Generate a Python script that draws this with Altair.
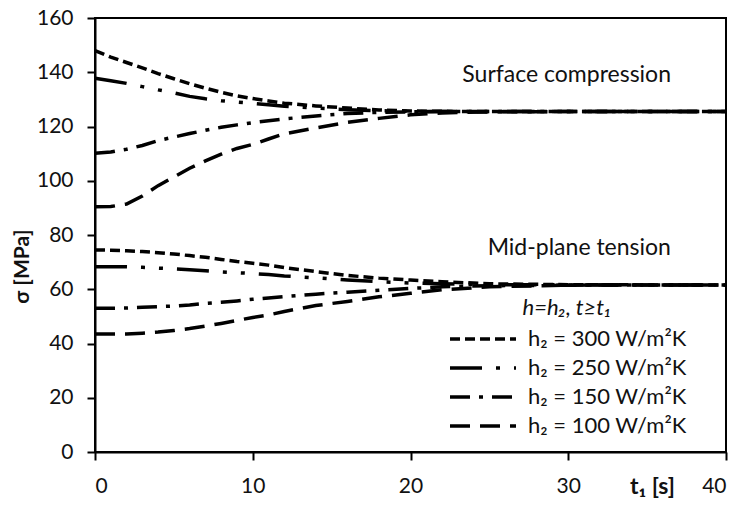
import altair as alt
import pandas as pd

# time grid [s]
t = [0, 1, 2, 3, 4, 5, 6, 7, 8, 9, 10, 11, 12, 14, 16, 18, 20, 22, 25, 30, 35, 40]

# surface compression [MPa]
surf_300 = [148.0, 145.6, 143.6, 141.6, 139.5, 137.6, 135.8, 134.1, 132.6, 131.3, 130.3, 129.4, 128.6, 127.6, 126.8, 126.1, 125.7, 125.6, 125.5, 125.5, 125.5, 125.5]
surf_250 = [137.8, 136.9, 135.9, 134.7, 133.5, 132.4, 131.1, 130.2, 129.5, 129.0, 128.5, 128.0, 127.5, 126.8, 126.2, 125.8, 125.6, 125.5, 125.5, 125.5, 125.5, 125.5]
surf_150 = [110.1, 110.6, 111.6, 113.0, 114.8, 116.1, 117.4, 118.6, 119.7, 120.6, 121.4, 122.1, 122.8, 123.9, 124.8, 125.2, 125.4, 125.5, 125.5, 125.5, 125.5, 125.5]
surf_100 = [90.4, 90.5, 91.4, 94.4, 98.2, 101.4, 104.6, 107.3, 109.8, 111.9, 113.4, 115.4, 117.3, 119.5, 121.5, 123.0, 124.3, 125.0, 125.4, 125.5, 125.5, 125.5]

# mid-plane tension [MPa]
mid_300 = [74.5, 74.4, 74.2, 73.9, 73.5, 73.0, 72.4, 71.8, 71.0, 70.2, 69.6, 68.9, 68.0, 66.5, 65.1, 64.1, 63.4, 62.8, 62.0, 61.7, 61.6, 61.6]
mid_250 = [68.3, 68.3, 68.3, 68.1, 67.8, 67.5, 67.2, 66.8, 66.4, 66.1, 65.8, 65.4, 64.9, 64.2, 63.4, 62.8, 62.3, 62.0, 61.7, 61.6, 61.6, 61.6]
mid_150 = [53.0, 53.0, 53.1, 53.4, 53.6, 53.8, 54.2, 54.8, 55.2, 55.7, 56.3, 56.8, 57.3, 58.2, 58.9, 59.6, 60.3, 60.9, 61.3, 61.5, 61.6, 61.6]
mid_100 = [43.5, 43.5, 43.5, 43.8, 44.2, 44.8, 45.5, 46.4, 47.4, 48.5, 49.6, 50.5, 51.8, 54.0, 55.5, 57.2, 58.5, 59.8, 60.9, 61.5, 61.6, 61.6]

series_labels = ["h₂ = 300 W/m²K", "h₂ = 250 W/m²K", "h₂ = 150 W/m²K", "h₂ = 100 W/m²K"]
dashes = [[10, 5], [32, 14, 4, 14, 4, 14], [20, 9, 4, 9], [20, 10]]

annot_text = ["Surface compression", "Mid-plane tension"]
annot_t = [29.9, 30.7]
annot_s = [136.4, 72.6]

rows = []
for lab, s_vals, m_vals in zip(series_labels,
                               [surf_300, surf_250, surf_150, surf_100],
                               [mid_300, mid_250, mid_150, mid_100]):
    for ti, v in zip(t, s_vals):
        rows.append({"t": ti, "sigma": v, "series": lab, "region": "surface"})
    for ti, v in zip(t, m_vals):
        rows.append({"t": ti, "sigma": v, "series": lab, "region": "mid"})
df = pd.DataFrame(rows)
df["key"] = df["series"] + "_" + df["region"]

ann = pd.DataFrame({"text": annot_text, "t": annot_t, "sigma": annot_s})

FONT = "Lato"

x_enc = alt.X("t:Q", scale=alt.Scale(domain=[0, 40], nice=False),
              axis=alt.Axis(values=[0, 10, 20, 30, 40], title="t₁ [s]",
                            titleX=557, titleY=41, titleBaseline="alphabetic",
                            titleFontWeight="bold", titleFontSize=23,
                            labelPadding=15))
y_enc = alt.Y("sigma:Q", scale=alt.Scale(domain=[0, 160], nice=False),
              axis=alt.Axis(values=list(range(0, 161, 20)), title="σ [MPa]",
                            titleX=-63, titleY=248, titleFontWeight="bold",
                            titleFontSize=21, labelPadding=14))

lines = alt.Chart(df).mark_line(color="black", strokeWidth=3.5, strokeCap="butt").encode(
    x=x_enc,
    y=y_enc,
    strokeDash=alt.StrokeDash(
        "series:N",
        scale=alt.Scale(domain=series_labels, range=dashes),
        legend=alt.Legend(
            title="h=h₂, t≥t₁", orient="none", legendX=353, legendY=280,
            titleFontStyle="italic", titleFontWeight="normal", titleFontSize=22,
            titleAnchor="middle", titlePadding=6,
            labelFontSize=22, labelOffset=54, rowPadding=5,
            symbolType="M-1,0H5", symbolSize=484, symbolStrokeWidth=3.5,
            symbolStrokeColor="black", symbolFillColor="transparent",
        ),
    ),
    detail="key:N",
    order="t:Q",
)

texts = alt.Chart(ann).mark_text(fontSize=23, font=FONT, align="center",
                                 baseline="alphabetic", color="#111").encode(
    x="t:Q", y="sigma:Q", text="text:N")

chart = alt.layer(lines, texts).properties(
    width=631, height=434,
    autosize=alt.AutoSizeParams(type="none"),
    padding={"left": 95, "top": 18, "right": 15, "bottom": 57},
).configure_view(stroke="black", strokeWidth=2).configure_axis(
    grid=False, domainColor="black", domainWidth=2, tickColor="black",
    tickWidth=2, tickSize=8, labelFont=FONT, labelFontSize=21,
    labelColor="#111", titleFont=FONT, titleColor="#111",
).configure_legend(labelFont=FONT, titleFont=FONT, labelColor="#111",
                   titleColor="#111")

chart.save("out.html", embed_options={"renderer": "svg", "actions": False})
